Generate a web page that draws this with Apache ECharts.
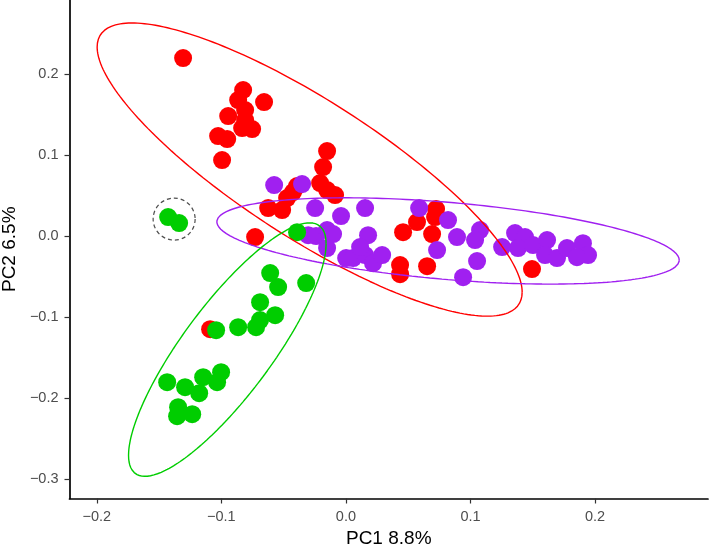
<!DOCTYPE html>
<html>
<head>
<meta charset="utf-8">
<script src="https://cdn.jsdelivr.net/npm/echarts@6/dist/echarts.min.js"></script>
<style>
html,body{margin:0;padding:0;background:#fff;}
#chart{width:709px;height:551px;}
</style>
</head>
<body>
<div id="chart"></div>
<script>
// ---- data ----
var xTicks = [-0.2, -0.1, 0.0, 0.1, 0.2];
var yTicks = [-0.3, -0.2, -0.1, 0.0, 0.1, 0.2];
var xTitle = 'PC1 8.8%';
var yTitle = 'PC2 6.5%';

var redX = [-0.1307,-0.0825,-0.0657,-0.0865,-0.0945,-0.0809,-0.0809,-0.0753,-0.0833,-0.1026,-0.0953,-0.0994,
            -0.0151,-0.0183,-0.0207,-0.0151,-0.0087,-0.0392,-0.0424,-0.0472,-0.0624,-0.0512,-0.0729,
            0.0724,0.0571,0.0459,0.0692,0.0716,0.0435,0.0435,0.0652,0.1494,-0.1090];
var redY = [0.2200,0.1805,0.1656,0.1681,0.1483,0.1557,0.1434,0.1323,0.1335,0.1236,0.1199,0.0939,
            0.1051,0.0853,0.0655,0.0569,0.0507,0.0618,0.0544,0.0470,0.0346,0.0321,-0.0012,
            0.0334,0.0173,0.0049,0.0025,0.0235,-0.0358,-0.0470,-0.0371,-0.0408,-0.1150];

var purpleX = [-0.0576,-0.0352,-0.0247,-0.0039,-0.0239,-0.0303,-0.0151,-0.0103,-0.0151,0.0002,0.0058,
               0.0154,0.0178,0.0154,0.0218,0.0291,0.0114,0.0588,0.0820,0.0892,0.0732,0.1077,0.1037,
               0.1053,0.0941,0.1254,0.1358,0.1438,0.1382,0.1502,0.1615,0.1599,0.1695,0.1775,0.1903,0.1944,0.1855];
var purpleY = [0.0630,0.0643,0.0346,0.0247,0.0000,0.0012,0.0074,0.0025,-0.0148,-0.0272,-0.0272,
               0.0346,0.0012,-0.0235,-0.0334,-0.0235,-0.0136,0.0346,0.0198,-0.0012,-0.0173,0.0074,-0.0049,
               -0.0309,-0.0507,-0.0136,0.0037,-0.0012,-0.0148,-0.0111,-0.0049,-0.0235,-0.0272,-0.0148,-0.0087,-0.0235,-0.0260];

var greenX = [-0.1427,-0.1339,-0.0392,-0.0608,-0.0544,-0.0319,-0.0689,-0.0568,-0.0689,-0.0721,-0.0865,-0.1042,
              -0.1146,-0.1002,-0.1034,-0.1435,-0.1291,-0.1178,-0.1347,-0.1355,-0.1234];
var greenY = [0.0235,0.0161,0.0049,-0.0457,-0.0630,-0.0581,-0.0816,-0.0977,-0.1038,-0.1125,-0.1125,-0.1162,
              -0.1743,-0.1681,-0.1805,-0.1805,-0.1867,-0.1941,-0.2114,-0.2225,-0.2200];

// ellipse parameters in data units: [centre x, centre y, half-width, half-height, correlation]
var redEllipse = [-0.0291, 0.0822, 0.1706, 0.1811, -0.836];
var purpleEllipse = [0.0820, -0.0060, 0.1856, 0.0533, -0.444];
var greenEllipse = [-0.0952, -0.1402, 0.0793, 0.1566, 0.834];
// highlighted pair (dashed circle centre)
var circleCentre = [-0.1379, 0.0210];

function pairs(xs, ys){ return xs.map(function(x,i){ return [x, ys[i]]; }); }
function ellipse(p){
  var pts = [], n = 240;
  var s = Math.sqrt(1 - p[4]*p[4]);
  for (var i = 0; i <= n; i++){
    var t = 2*Math.PI*i/n;
    pts.push([p[0] + p[2]*Math.cos(t), p[1] + p[3]*(p[4]*Math.cos(t) + s*Math.sin(t))]);
  }
  return pts;
}
function fmt(v){
  var s = Math.abs(v) < 1e-9 ? '0.0' : Math.abs(v).toFixed(1);
  return (v < -1e-9 ? '\u2212' : '') + s;
}

var RED = '#FF0000', PURPLE = '#A020F0', GREEN = '#00CD00';
var font = 'Liberation Sans, Arial, sans-serif';

var chart = echarts.init(document.getElementById('chart'), null, {renderer:'canvas'});
function pointSeries(data, color){
  return {type:'scatter', data:data, symbol:'circle', symbolSize:18,
          itemStyle:{color:color, opacity:1}, silent:true, z:2};
}
function ellSeries(data, color){
  return {type:'line', data:data, showSymbol:false, symbol:'none', smooth:false,
          lineStyle:{color:color, width:1.4}, silent:true, z:3};
}
chart.setOption({
  animation:false,
  backgroundColor:'#ffffff',
  grid:{left:69.5, right:1, top:0, bottom:52.5, containLabel:false, outerBoundsMode:'none'},
  xAxis:{
    type:'value', min:-0.2219, max:0.2907,
    name:xTitle, nameLocation:'middle', nameGap:30,
    nameTextStyle:{color:'#000', fontSize:19, fontFamily:font},
    splitLine:{show:false},
    axisLine:{show:true, onZero:false, lineStyle:{color:'#000', width:1.7}},
    axisTick:{show:true, length:5, customValues:xTicks, lineStyle:{color:'#333', width:1.2}},
    axisLabel:{customValues:xTicks, formatter:fmt, color:'#4D4D4D', fontSize:14.5, fontFamily:font, margin:11}
  },
  yAxis:{
    type:'value', min:-0.3242, max:0.2917,
    name:yTitle, nameLocation:'middle', nameGap:42, nameRotate:90,
    nameTextStyle:{color:'#000', fontSize:19, fontFamily:font},
    splitLine:{show:false},
    axisLine:{show:true, onZero:false, lineStyle:{color:'#000', width:1.7}},
    axisTick:{show:true, length:5, customValues:yTicks, lineStyle:{color:'#333', width:1.2}},
    axisLabel:{customValues:yTicks, formatter:fmt, color:'#4D4D4D', fontSize:14.5, fontFamily:font, margin:11}
  },
  series:[
    pointSeries(pairs(redX, redY), RED),
    pointSeries(pairs(purpleX, purpleY), PURPLE),
    pointSeries(pairs(greenX, greenY), GREEN),
    ellSeries(ellipse(redEllipse), RED),
    ellSeries(ellipse(purpleEllipse), PURPLE),
    ellSeries(ellipse(greenEllipse), GREEN),
    {type:'scatter', data:[circleCentre], symbol:'circle', symbolSize:42, silent:true, z:4,
     itemStyle:{color:'rgba(0,0,0,0)', borderColor:'#222', borderWidth:1.2, borderType:[4,3]}}
  ]
});
</script>
</body>
</html>
